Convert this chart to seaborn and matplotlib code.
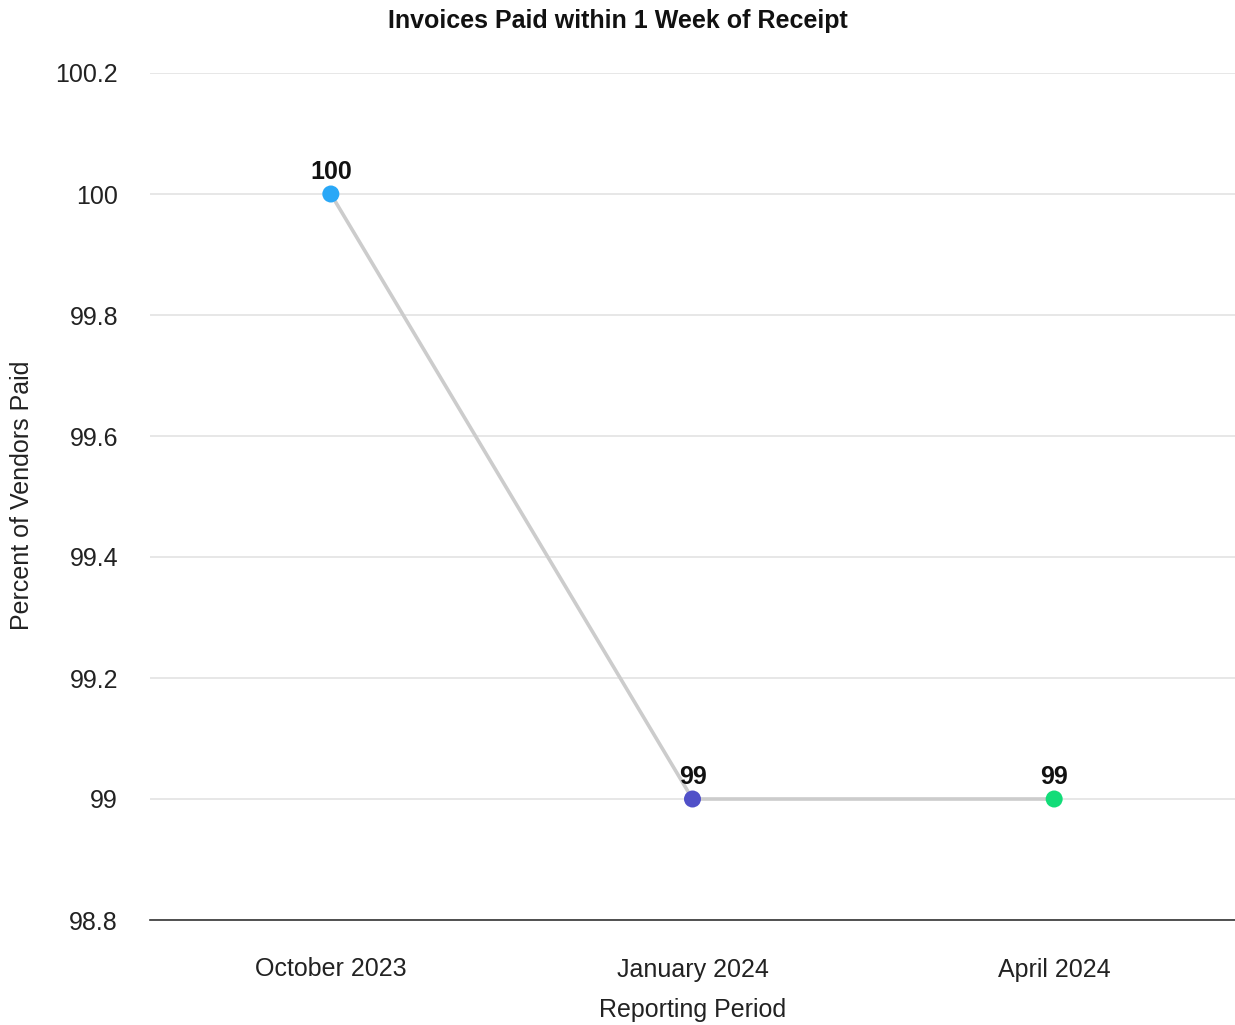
import matplotlib
matplotlib.use("Agg")
import matplotlib.pyplot as plt
import seaborn as sns
import pandas as pd

periods = ["October 2023", "January 2024", "April 2024"]
percent_paid = [100, 99, 99]
point_colors = ["#2aa8f7", "#5050c8", "#12dc78"]
y_ticks = [98.8, 99, 99.2, 99.4, 99.6, 99.8, 100, 100.2]
y_tick_labels = ["98.8", "99", "99.2", "99.4", "99.6", "99.8", "100", "100.2"]

sns.set_theme(style="white")
plt.rcParams["font.family"] = ["Liberation Sans", "DejaVu Sans"]

df = pd.DataFrame({"period": periods, "pct": percent_paid, "pos": range(len(periods))})

fig = plt.figure(figsize=(12.35, 10.25), dpi=100)
ax = fig.add_axes([150 / 1235, 1 - 920 / 1025, 1 - 150 / 1235, (920 - 73) / 1025])

sns.lineplot(data=df, x="pos", y="pct", color="#cccccc", linewidth=2.6, ax=ax,
             zorder=2, legend=False)
sns.scatterplot(data=df, x="pos", y="pct", hue="period", palette=point_colors,
                s=150, edgecolor="none", ax=ax, zorder=3, legend=False)

for x, y in zip(df["pos"], df["pct"]):
    ax.annotate(f"{y:g}", (x, y), xytext=(0, 7), textcoords="offset points",
                ha="center", va="bottom", fontsize=18, fontweight="bold",
                color="#111111")

ax.set_xlim(-0.5, len(periods) - 0.5)
ax.set_ylim(98.8, 100.2)
ax.set_xticks(range(len(periods)))
ax.set_xticklabels(periods)
ax.set_yticks(y_ticks)
ax.set_yticklabels(y_tick_labels)
ax.grid(axis="y", color="#e3e3e3", linewidth=1.2)
ax.set_axisbelow(True)
for side in ["left", "right", "top"]:
    ax.spines[side].set_visible(False)
ax.spines["bottom"].set_color("#333333")
ax.spines["bottom"].set_linewidth(1.2)
ax.tick_params(axis="y", length=0, pad=23, labelsize=18, labelcolor="#222222")
ax.tick_params(axis="x", length=0, pad=27, labelsize=18, labelcolor="#222222")

ax.set_xlabel("Reporting Period", fontsize=18, color="#222222", labelpad=12)
ax.set_ylabel("")
fig.text(22 / 1235, 1 - 495 / 1025, "Percent of Vendors Paid", rotation=90,
         ha="center", va="center", fontsize=18, color="#222222")

fig.text(0.5, 1 - 21 / 1025, "Invoices Paid within 1 Week of Receipt",
         ha="center", va="center", fontsize=18, fontweight="bold", color="#111111")

fig.savefig("out.png", dpi=100)
